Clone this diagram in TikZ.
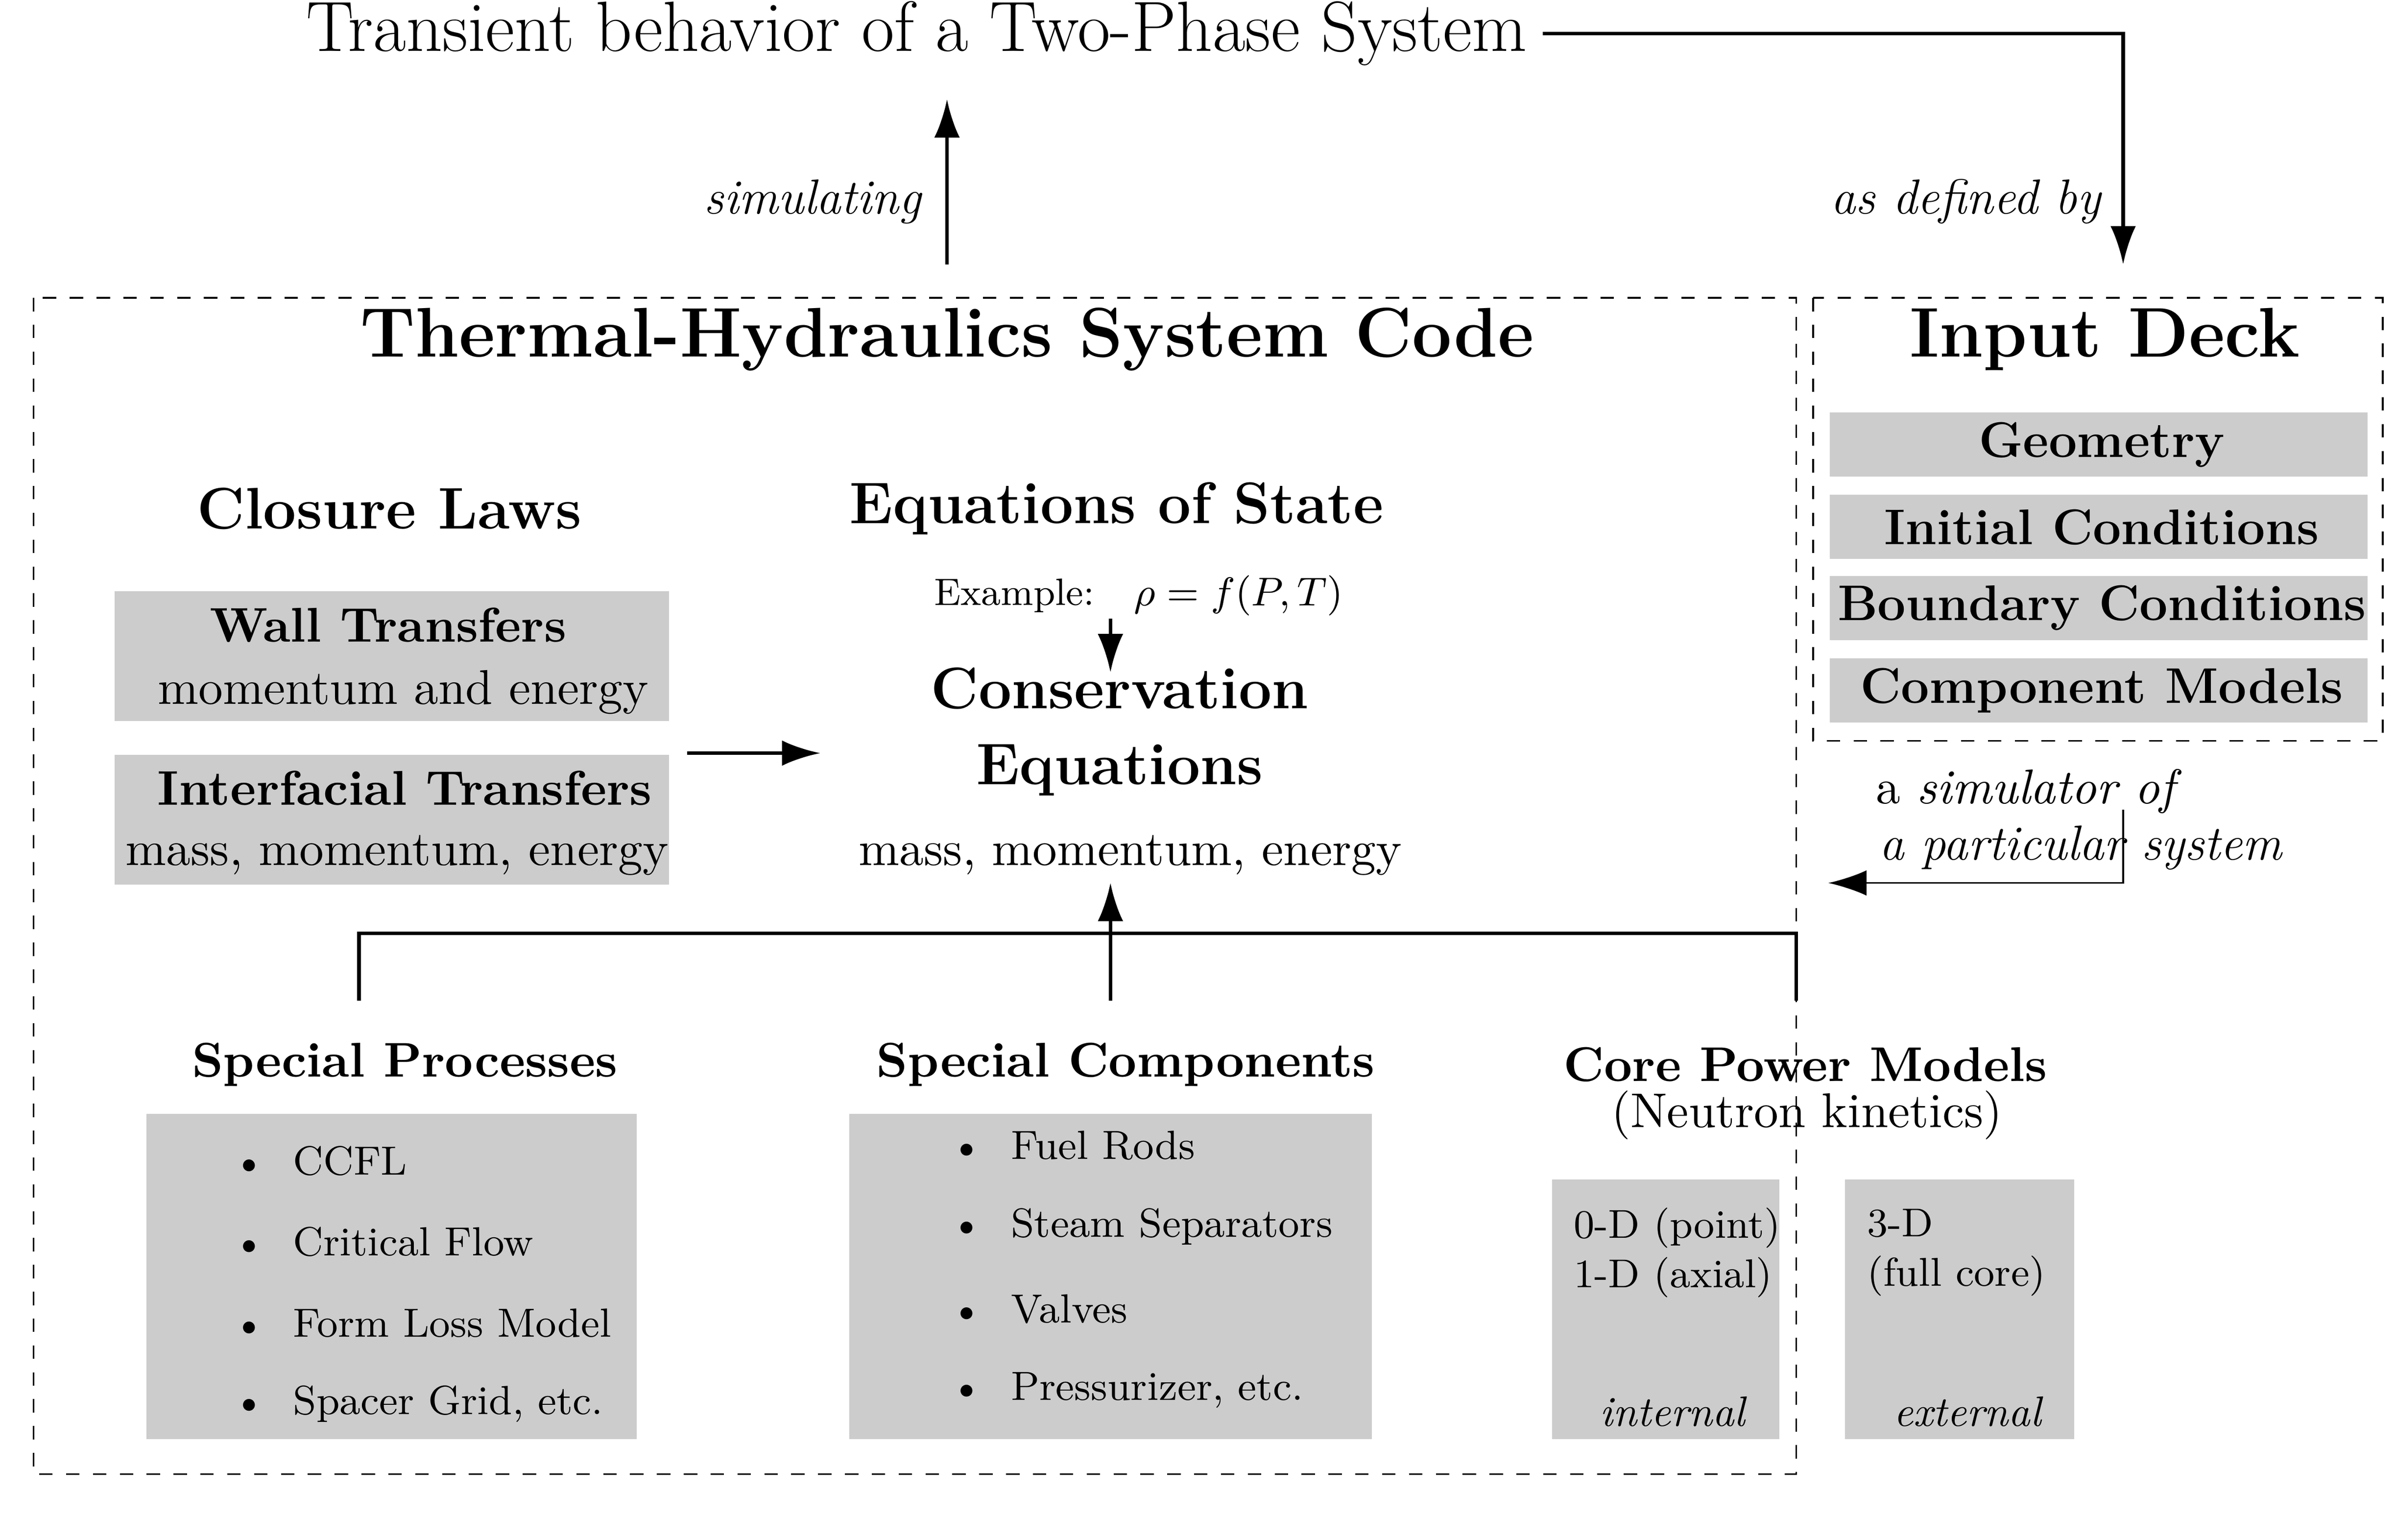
\documentclass[tikz,border=0pt]{standalone}
\usepackage{amsmath}
\usetikzlibrary{arrows.meta}
\tikzset{
  graybox/.style={fill=black!20,draw=none},
  dashbox/.style={draw,dashed,thin},
  head/.style={font=\fontsize{13.1}{16}\selectfont\bfseries},
  subhead/.style={font=\fontsize{10.9}{13}\selectfont\bfseries},
  big/.style={font=\fontsize{15.7}{19}\selectfont\bfseries},
  body/.style={font=\fontsize{10.9}{13}\selectfont},
  small/.style={font=\fontsize{9}{11}\selectfont},
  lab/.style={font=\fontsize{11}{13}\selectfont\itshape},
  arr/.style={-{Latex[length=3mm,width=2mm]},thick},
  item/.style={anchor=west,font=\fontsize{9.1}{11}\selectfont},
}
\begin{document}
\begin{tikzpicture}[x=0.012cm,y=-0.012cm]
\useasboundingbox (0,0) rectangle (1568,1008);
% top
\node[font=\fontsize{15.9}{19}\selectfont] (title) at (600,22) {Transient behavior of a Two-Phase System};
\coordinate (deckin) at (1390,173);
\coordinate (codeout) at (620,173);
\draw[arr] (title.east) -| (deckin);
\node[lab] at (1287,132) {as defined by};
\draw[arr] (codeout) -- (620,65);
\node[lab] at (532,132) {simulating};
% frames
\draw[dashbox] (22,195) rectangle (1176,965);
\draw[dashbox] (1187,195) rectangle (1560,485);
\node[big] (thsc) at (620,222) {Thermal-Hydraulics System Code};
\node[big] (deck) at (1378,222) {Input Deck};
% input deck items
\foreach \t/\y in {Geometry/291,Initial Conditions/345,Boundary Conditions/398,Component Models/452}
  {\fill[graybox] (1198,\y-21) rectangle (1550,\y+21);
   \node[subhead,font=\fontsize{11.2}{13}\selectfont\bfseries] at (1376,\y) {\t};}
% closure laws
\node[head] (closure) at (255,333) {Closure Laws};
\fill[graybox] (75,387) rectangle (438,472);
\node[subhead] (wall) at (254,409) {Wall Transfers};
\node[body] at (264,453) {momentum and energy};
\fill[graybox] (75,494) rectangle (438,579);
\node[subhead] (inter) at (265,516) {Interfacial Transfers};
\node[body] at (260,560) {mass, momentum, energy};
\coordinate (clout) at (450,493);
\coordinate (consin) at (537,493);
\draw[arr] (clout) -- (consin);
% equations
\node[head] (eos) at (731,333) {Equations of State};
\node[font=\fontsize{8.5}{10}\selectfont] (ex) at (664,390) {Example:};
\node[small] (rho) at (811,390) {$\rho = f(P,T)$};
\node[head,align=center] (cons) at (733,479) {Conservation\\[1pt]Equations};
\draw[arr] (727,405) -- (727,440);
\node[body] (cmme) at (740,560) {mass, momentum, energy};
% bracket
\draw[thick] (235,655) |- (1176,611) -- (1176,655);
\draw[arr] (727,655) -- (727,578);
% simulator note
\node[body,anchor=west] at (1218,518) {a \textit{simulator of}};
\node[lab,anchor=west] at (1220,555) {a particular system};
\coordinate (simtop) at (1390,530);
\coordinate (simend) at (1197,578);
\draw[arr,thin] (simtop) |- (simend);
% special processes
\node[subhead] (sp) at (265,697) {Special Processes};
\fill[graybox] (96,729) rectangle (417,942);
\foreach \t/\y in {CCFL/760,Critical Flow/813,Form Loss Model/866,{Spacer Grid, etc.}/919}
  \node[item] at (142,\y) {\textbullet\ \ \t};
% special components
\node[subhead] (sc) at (737,697) {Special Components};
\fill[graybox] (556,729) rectangle (898,942);
\foreach \t/\y in {Fuel Rods/750,Steam Separators/803,Valves/857,{Pressurizer, etc.}/910}
  \node[item] at (612,\y) {\textbullet\ \ \t};
% core power
\node[subhead] (cpm) at (1182,697) {Core Power Models};
\node[body] (nk) at (1183,730) {(Neutron kinetics)};
\fill[graybox] (1016,772) rectangle (1165,942);
\fill[graybox] (1208,772) rectangle (1358,942);
\node[small,anchor=west,align=left] (int) at (1020,820) {0-D (point)\\1-D (axial)};
\node[lab,font=\fontsize{9.5}{11}\selectfont\itshape] at (1095,924) {internal};
\node[small,anchor=west,align=left] (ext) at (1212,820) {3-D\\(full core)};
\node[lab,font=\fontsize{9.5}{11}\selectfont\itshape] at (1288,924) {external};
\end{tikzpicture}
\end{document}
